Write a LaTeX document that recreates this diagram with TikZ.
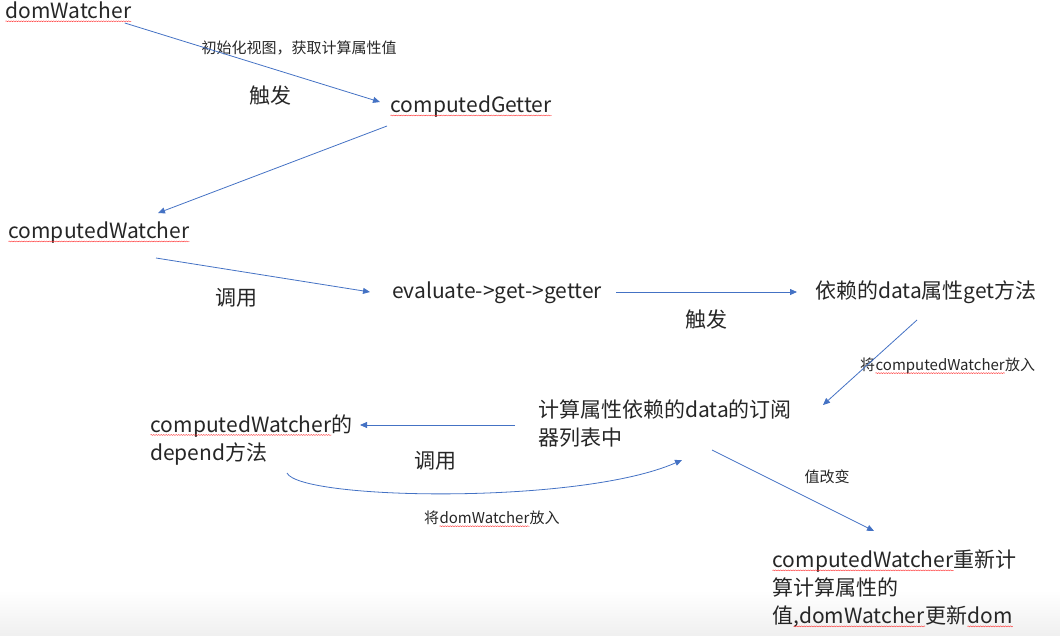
\documentclass[tikz,border=0pt]{standalone}
\usepackage{fontspec}
\setmainfont{Noto Sans CJK SC}
\usetikzlibrary{arrows.meta, decorations.pathmorphing}

\definecolor{flowblue}{HTML}{4472C4}
\definecolor{ink}{HTML}{262626}
\newcommand\squig[1]{\tikz[baseline=(w.base)]{\node[inner sep=0pt, anchor=base west] (w) at (0, 0) {#1};
	\draw[red!80, line width=0.4pt, decorate, decoration={snake, amplitude=0.5pt, segment length=2.5pt}] ([yshift=-2.5pt]w.base west) -- ([yshift=-2.5pt]w.base east);}}

\begin{document}
\begin{tikzpicture}[x=1pt, y=-1pt,
		big/.style={font=\fontsize{21}{28}\selectfont, text=ink, inner sep=0pt, align=left, anchor=west},
		small/.style={font=\fontsize{15}{18}\selectfont, text=ink, inner sep=0pt},
		flow/.style={draw=flowblue, line width=0.8pt, -{Triangle[length=7pt, width=6pt]}}]
		\useasboundingbox (0, 0) rectangle (1060, 635);
		\shade[top color=white, bottom color=black!6] (0, 590) rectangle (1060, 635);
		
		% boxes
		\node[big] (dom) at (5, 12) {\squig{domWatcher}};
		\node[big] (getter) at (390, 107) {\squig{computedGetter}};
		\node[big] (cw) at (8, 233) {\squig{computedWatcher}};
		\node[big] (eval) at (392, 293) {evaluate->get->getter};
		\node[big] (dep) at (815, 292) {依赖的data属性get方法};
		\node[big] (sub) at (538, 424) {计算属性依赖的data的订阅\\器列表中};
		\node[big] (depend) at (150, 440) {\squig{computedWatcher}的\\depend方法};
		\node[big] (final) at (772, 589) {\squig{computedWatcher}重新计\\算计算属性的\\值\squig{,domWatcher}更新\squig{dom}};
		
		% labels
		\node[small] (init) at (299, 48) {初始化视图，获取计算属性值};
		\node[big, anchor=center] (trig1) at (270, 96) {触发};
		\node[big, anchor=center] (call1) at (236, 298) {调用};
		\node[big, anchor=center] (trig2) at (706, 320) {触发};
		\node[small, anchor=west] (put1) at (860, 366) {将\squig{computedWatcher}放入};
		\node[big, anchor=center] (call2) at (435, 461) {调用};
		\node[small, anchor=west] (put2) at (424, 519) {将\squig{domWatcher}放入};
		\node[small] (change) at (827, 477) {值改变};
		
		% arrows
		\draw[flow] ([shift={(-7, 11)}]dom.east) -- ([shift={(-10, -5)}]getter.west);
		\draw[flow] ([shift={(-3, 19)}]getter.west) -- ([shift={(-32, -20)}]cw.east);
		\draw[flow] ([shift={(-34, 25)}]cw.east) -- ([shift={(-22, -1)}]eval.west);
		\draw[flow] ([shift={(14, -1)}]eval.east) -- ([shift={(-18, 0)}]dep.west);
		\draw[flow] ([shift={(102, 28)}]dep.west) -- ([shift={(285, -19)}]sub.west);
		\draw[flow] ([shift={(-23, 1)}]sub.west) -- ([shift={(7, -15)}]depend.east);
		\draw[flow] ([shift={(137, 33)}]depend.west) .. controls (300, 500) and (580, 505) .. ([shift={(144, 36)}]sub.west);
		\draw[flow] ([shift={(174, 26)}]sub.west) -- ([shift={(102, -58)}]final.west);
\end{tikzpicture}
\end{document}
